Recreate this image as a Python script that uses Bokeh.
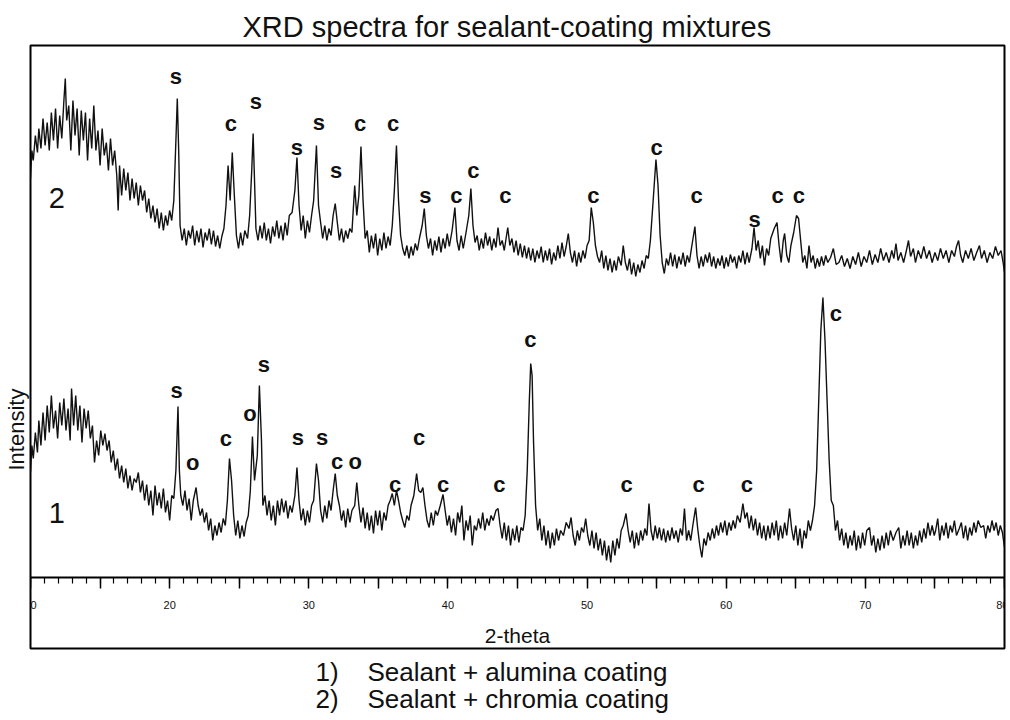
from bokeh.plotting import figure
from bokeh.models import Range1d, FixedTicker, ColumnDataSource, Title
from bokeh.core.properties import value
from bokeh.embed import file_html
from bokeh.resources import INLINE

# ---------------- data ----------------
title_text = "XRD spectra for sealant-coating mixtures"
x_label = "2-theta"
y_label = "Intensity"
legend_1 = "1)\u00a0\u00a0\u00a0 Sealant + alumina coating"
legend_2 = "2)\u00a0\u00a0\u00a0 Sealant + chromia coating"

major_ticks = [10, 15, 20, 25, 30, 35, 40, 45, 50, 55, 60, 65, 70, 75, 80]
minor_ticks = list(range(10, 81))

# spectrum 2 (Sealant + chromia coating), plotted with its vertical offset
theta_2 = [
    10.0, 10.1, 10.2, 10.35, 10.5, 10.6, 10.75, 10.9, 11.05, 11.2,
    11.35, 11.5, 11.65, 11.8, 11.95, 12.1, 12.25, 12.4, 12.5, 12.6,
    12.75, 12.9, 13.05, 13.2, 13.35, 13.5, 13.65, 13.8, 13.95, 14.1,
    14.25, 14.4, 14.55, 14.7, 14.85, 15.0, 15.15, 15.3, 15.45, 15.6,
    15.75, 15.9, 16.05, 16.2, 16.3, 16.4, 16.55, 16.7, 16.85, 17.0,
    17.15, 17.3, 17.45, 17.6, 17.75, 17.9, 18.05, 18.2, 18.35, 18.5,
    18.65, 18.8, 18.95, 19.1, 19.25, 19.4, 19.55, 19.7, 19.85, 20.0,
    20.15, 20.3, 20.45, 20.55, 20.65, 20.75, 20.9, 21.05, 21.2, 21.35,
    21.5, 21.65, 21.8, 21.95, 22.1, 22.25, 22.4, 22.55, 22.7, 22.85,
    23.0, 23.15, 23.3, 23.45, 23.6, 23.75, 23.9, 24.05, 24.2, 24.35,
    24.5, 24.65, 24.8, 24.95, 25.1, 25.25, 25.4, 25.6, 25.75, 25.9,
    26.0, 26.1, 26.2, 26.35, 26.5, 26.65, 26.8, 26.95, 27.1, 27.25,
    27.4, 27.55, 27.7, 27.85, 28.0, 28.15, 28.3, 28.45, 28.6, 28.8,
    29.0, 29.15, 29.3, 29.45, 29.6, 29.75, 29.9, 30.05, 30.2, 30.35,
    30.55, 30.7, 30.85, 31.0, 31.15, 31.3, 31.45, 31.6, 31.75, 31.9,
    32.05, 32.2, 32.35, 32.5, 32.65, 32.8, 32.95, 33.1, 33.3, 33.45,
    33.6, 33.75, 33.9, 34.05, 34.2, 34.35, 34.5, 34.65, 34.8, 34.95,
    35.1, 35.25, 35.4, 35.55, 35.7, 35.85, 36.0, 36.15, 36.3, 36.45,
    36.6, 36.75, 36.9, 37.05, 37.2, 37.35, 37.5, 37.65, 37.8, 37.95,
    38.15, 38.3, 38.45, 38.6, 38.75, 38.9, 39.05, 39.2, 39.35, 39.5,
    39.65, 39.8, 39.95, 40.1, 40.3, 40.5, 40.65, 40.8, 40.95, 41.1,
    41.3, 41.5, 41.65, 41.8, 41.95, 42.1, 42.25, 42.4, 42.55, 42.7,
    42.85, 43.0, 43.15, 43.3, 43.45, 43.6, 43.75, 43.9, 44.05, 44.2,
    44.3, 44.45, 44.6, 44.75, 44.9, 45.05, 45.2, 45.35, 45.5, 45.65,
    45.8, 45.95, 46.1, 46.25, 46.4, 46.55, 46.7, 46.85, 47.0, 47.15,
    47.3, 47.45, 47.6, 47.75, 47.9, 48.05, 48.2, 48.35, 48.5, 48.65,
    48.8, 48.95, 49.1, 49.25, 49.4, 49.55, 49.7, 49.85, 50.0, 50.15,
    50.3, 50.45, 50.6, 50.75, 50.9, 51.05, 51.2, 51.35, 51.5, 51.65,
    51.8, 51.95, 52.1, 52.25, 52.45, 52.6, 52.75, 52.9, 53.05, 53.2,
    53.35, 53.5, 53.65, 53.8, 53.95, 54.1, 54.25, 54.4, 54.55, 54.75,
    54.95, 55.1, 55.25, 55.4, 55.55, 55.7, 55.85, 56.0, 56.15, 56.3,
    56.45, 56.6, 56.75, 56.9, 57.05, 57.2, 57.35, 57.5, 57.75, 57.9,
    58.05, 58.2, 58.35, 58.5, 58.65, 58.8, 58.95, 59.1, 59.25, 59.4,
    59.55, 59.7, 59.85, 60.0, 60.15, 60.3, 60.45, 60.6, 60.75, 60.9,
    61.05, 61.2, 61.35, 61.5, 61.65, 61.85, 62.0, 62.15, 62.3, 62.45,
    62.6, 62.75, 62.9, 63.05, 63.2, 63.45, 63.65, 63.8, 63.95, 64.1,
    64.2, 64.35, 64.5, 64.65, 64.85, 65.05, 65.2, 65.35, 65.5, 65.65,
    65.8, 65.95, 66.1, 66.25, 66.4, 66.55, 66.7, 66.85, 67.0, 67.15,
    67.3, 67.5, 67.7, 67.9, 68.1, 68.3, 68.5, 68.7, 68.9, 69.1,
    69.3, 69.5, 69.7, 69.9, 70.1, 70.3, 70.5, 70.7, 70.9, 71.1,
    71.3, 71.5, 71.7, 71.9, 72.05, 72.2, 72.35, 72.55, 72.75, 72.95,
    73.1, 73.25, 73.45, 73.6, 73.8, 74.0, 74.2, 74.4, 74.6, 74.8,
    75.0, 75.2, 75.4, 75.6, 75.8, 76.0, 76.2, 76.4, 76.55, 76.7,
    76.85, 77.0, 77.2, 77.4, 77.6, 77.8, 78.0, 78.2, 78.35, 78.55,
    78.75, 78.95, 79.15, 79.35, 79.55, 79.75, 79.9, 80.0,
]
intensity_2 = [
    399, 427, 417, 442, 425, 449, 429, 459, 432, 455,
    427, 465, 437, 469, 429, 462, 439, 477, 499, 457,
    472, 427, 477, 442, 469, 422, 467, 437, 465, 417,
    459, 429, 472, 427, 447, 412, 449, 422, 435, 407,
    439, 412, 427, 402, 367, 412, 382, 409, 387, 405,
    377, 399, 379, 395, 372, 392, 377, 387, 365, 379,
    359, 372, 355, 369, 349, 365, 347, 362, 352, 367,
    357, 377, 437, 479, 427, 352, 337, 349, 332, 347,
    339, 352, 332, 347, 335, 349, 330, 345, 337, 349,
    333, 347, 331, 342, 329, 341, 349, 372, 412, 377,
    425, 382, 342, 329, 345, 332, 347, 339, 362, 407,
    444, 397, 349, 337, 352, 339, 355, 337, 349, 334,
    351, 341, 357, 339, 352, 337, 355, 342, 362, 365,
    387, 420, 372, 347, 362, 339, 357, 345, 362, 377,
    432, 372, 355, 339, 352, 337, 349, 342, 362, 374,
    355, 337, 349, 335, 347, 339, 349, 345, 392, 362,
    382, 431, 377, 339, 347, 325, 342, 329, 344, 322,
    339, 327, 345, 329, 341, 332, 352, 387, 432, 377,
    342, 329, 322, 332, 319, 331, 322, 334, 327, 339,
    352, 369, 342, 329, 339, 322, 337, 327, 341, 325,
    339, 329, 344, 331, 347, 370, 337, 327, 342, 329,
    345, 362, 389, 352, 335, 342, 327, 339, 329, 345,
    332, 341, 327, 339, 330, 350, 332, 337, 327, 341,
    350, 332, 339, 325, 337, 322, 334, 320, 332, 319,
    330, 317, 329, 315, 327, 319, 331, 315, 327, 317,
    329, 313, 325, 317, 332, 319, 335, 321, 331, 344,
    325, 315, 327, 311, 325, 315, 327, 319, 332, 337,
    370, 355, 332, 321, 315, 327, 309, 322, 307, 319,
    305, 317, 307, 321, 312, 332, 315, 307, 319, 303,
    315, 301, 313, 305, 317, 309, 322, 319, 337, 377,
    418, 392, 342, 315, 304, 319, 312, 325, 311, 323,
    309, 321, 313, 325, 311, 322, 315, 329, 351, 322,
    309, 321, 311, 323, 315, 325, 311, 321, 309, 319,
    312, 322, 309, 320, 311, 323, 315, 321, 309, 322,
    315, 327, 313, 325, 315, 329, 350, 327, 337, 319,
    332, 312, 329, 322, 339, 349, 355, 332, 315, 337,
    344, 322, 315, 332, 345, 362, 359, 337, 315, 322,
    309, 332, 315, 322, 309, 319, 311, 321, 312, 322,
    315, 320, 329, 313, 315, 322, 311, 319, 309, 321,
    313, 325, 311, 321, 315, 327, 313, 323, 315, 329,
    317, 325, 315, 327, 319, 334, 317, 325, 315, 327,
    337, 321, 329, 315, 327, 319, 331, 319, 327, 315,
    325, 317, 329, 319, 327, 315, 327, 321, 331, 337,
    322, 315, 327, 319, 329, 317, 325, 332, 319, 327,
    315, 325, 319, 331, 322, 327, 315, 305,
]

# spectrum 1 (Sealant + alumina coating)
theta_1 = [
    10.0, 10.1, 10.2, 10.35, 10.5, 10.6, 10.75, 10.9, 11.05, 11.2,
    11.35, 11.5, 11.65, 11.8, 11.95, 12.1, 12.25, 12.4, 12.55, 12.7,
    12.85, 12.95, 13.1, 13.25, 13.4, 13.55, 13.7, 13.85, 14.0, 14.15,
    14.3, 14.45, 14.6, 14.75, 14.9, 15.05, 15.2, 15.35, 15.5, 15.65,
    15.8, 15.95, 16.1, 16.25, 16.4, 16.55, 16.7, 16.85, 17.0, 17.15,
    17.3, 17.45, 17.6, 17.75, 17.9, 18.05, 18.2, 18.35, 18.5, 18.65,
    18.8, 18.95, 19.1, 19.25, 19.4, 19.55, 19.7, 19.85, 20.0, 20.15,
    20.3, 20.45, 20.6, 20.7, 20.8, 20.95, 21.1, 21.25, 21.4, 21.55,
    21.7, 21.9, 22.05, 22.2, 22.35, 22.5, 22.65, 22.8, 22.95, 23.1,
    23.25, 23.4, 23.55, 23.7, 23.85, 24.0, 24.15, 24.3, 24.45, 24.6,
    24.75, 24.9, 25.05, 25.2, 25.35, 25.5, 25.65, 25.8, 25.95, 26.1,
    26.3, 26.45, 26.6, 26.7, 26.85, 27.0, 27.15, 27.3, 27.45, 27.6,
    27.75, 27.9, 28.05, 28.2, 28.35, 28.5, 28.65, 28.8, 29.0, 29.15,
    29.3, 29.45, 29.6, 29.75, 29.9, 30.05, 30.2, 30.35, 30.55, 30.7,
    30.85, 31.0, 31.15, 31.3, 31.45, 31.6, 31.75, 31.9, 32.05, 32.2,
    32.35, 32.5, 32.65, 32.8, 32.95, 33.1, 33.3, 33.45, 33.6, 33.75,
    33.9, 34.05, 34.2, 34.35, 34.5, 34.65, 34.8, 34.95, 35.1, 35.25,
    35.4, 35.55, 35.7, 35.85, 36.0, 36.15, 36.3, 36.45, 36.6, 36.75,
    36.9, 37.05, 37.2, 37.35, 37.55, 37.75, 37.9, 38.05, 38.2, 38.35,
    38.5, 38.65, 38.8, 38.95, 39.1, 39.25, 39.45, 39.65, 39.8, 39.95,
    40.1, 40.25, 40.4, 40.55, 40.7, 40.85, 41.0, 41.15, 41.3, 41.45,
    41.6, 41.75, 41.9, 42.05, 42.2, 42.35, 42.5, 42.65, 42.8, 42.95,
    43.1, 43.25, 43.45, 43.6, 43.75, 43.9, 44.05, 44.2, 44.35, 44.5,
    44.65, 44.8, 44.95, 45.1, 45.25, 45.4, 45.55, 45.7, 45.85, 45.95,
    46.05, 46.15, 46.3, 46.45, 46.6, 46.75, 46.9, 47.05, 47.2, 47.35,
    47.5, 47.65, 47.8, 47.95, 48.1, 48.3, 48.5, 48.7, 48.85, 49.0,
    49.15, 49.3, 49.45, 49.6, 49.75, 49.9, 50.05, 50.2, 50.35, 50.5,
    50.65, 50.8, 50.95, 51.1, 51.25, 51.4, 51.55, 51.7, 51.85, 52.0,
    52.15, 52.3, 52.45, 52.6, 52.8, 52.95, 53.1, 53.25, 53.4, 53.55,
    53.7, 53.85, 54.0, 54.15, 54.3, 54.45, 54.6, 54.75, 54.9, 55.05,
    55.2, 55.35, 55.5, 55.65, 55.8, 55.95, 56.1, 56.25, 56.4, 56.55,
    56.7, 56.85, 57.0, 57.15, 57.3, 57.45, 57.6, 57.8, 57.95, 58.1,
    58.25, 58.4, 58.55, 58.7, 58.85, 59.0, 59.15, 59.3, 59.45, 59.6,
    59.75, 59.9, 60.05, 60.2, 60.35, 60.5, 60.65, 60.8, 61.0, 61.2,
    61.35, 61.5, 61.65, 61.8, 61.95, 62.1, 62.25, 62.4, 62.55, 62.7,
    62.85, 63.0, 63.15, 63.3, 63.45, 63.6, 63.75, 63.9, 64.05, 64.2,
    64.35, 64.55, 64.7, 64.85, 65.0, 65.15, 65.3, 65.45, 65.6, 65.75,
    65.9, 66.05, 66.2, 66.35, 66.5, 66.65, 66.8, 66.95, 67.1, 67.25,
    67.4, 67.55, 67.7, 67.85, 68.0, 68.15, 68.3, 68.45, 68.6, 68.75,
    68.9, 69.05, 69.2, 69.35, 69.5, 69.65, 69.8, 69.95, 70.1, 70.3,
    70.45, 70.6, 70.75, 70.9, 71.05, 71.2, 71.35, 71.5, 71.65, 71.8,
    72.0, 72.2, 72.4, 72.55, 72.7, 72.85, 73.0, 73.15, 73.3, 73.45,
    73.6, 73.75, 73.9, 74.05, 74.2, 74.35, 74.5, 74.65, 74.8, 74.95,
    75.05, 75.2, 75.35, 75.5, 75.65, 75.8, 75.95, 76.1, 76.25, 76.4,
    76.55, 76.75, 76.9, 77.05, 77.2, 77.35, 77.5, 77.65, 77.8, 77.95,
    78.1, 78.3, 78.5, 78.65, 78.8, 78.95, 79.1, 79.25, 79.4, 79.55,
    79.7, 79.85, 80.0,
]
intensity_1 = [
    105, 132, 119, 145, 125, 157, 132, 165, 137, 172,
    145, 182, 149, 167, 139, 175, 152, 179, 147, 169,
    137, 189, 152, 182, 147, 172, 135, 169, 149, 167,
    139, 152, 115, 137, 122, 147, 132, 144, 127, 137,
    115, 127, 107, 119, 99, 112, 95, 109, 89, 102,
    87, 99, 95, 105, 85, 97, 77, 93, 72, 87,
    62, 92, 72, 85, 69, 89, 65, 77, 57, 82,
    79, 107, 171, 107, 82, 72, 87, 67, 79, 57,
    77, 90, 72, 62, 69, 55, 65, 47, 59, 37,
    52, 42, 55, 45, 59, 52, 77, 119, 97, 62,
    42, 57, 39, 52, 41, 55, 62, 87, 141, 97,
    122, 192, 137, 72, 82, 62, 77, 57, 72, 52,
    77, 62, 79, 65, 77, 59, 72, 65, 82, 110,
    77, 57, 69, 52, 67, 55, 72, 77, 114, 97,
    67, 55, 72, 59, 77, 67, 87, 104, 82, 72,
    57, 67, 50, 69, 55, 67, 72, 95, 72, 55,
    70, 49, 65, 47, 62, 44, 67, 52, 67, 47,
    65, 57, 72, 77, 84, 72, 87, 77, 65, 57,
    50, 62, 57, 72, 82, 104, 87, 85, 90, 72,
    57, 50, 65, 52, 67, 62, 72, 83, 67, 52,
    62, 45, 59, 42, 65, 55, 72, 37, 57, 47,
    62, 32, 52, 47, 59, 49, 65, 47, 59, 52,
    62, 57, 67, 69, 52, 39, 55, 37, 52, 32,
    49, 37, 52, 35, 50, 47, 62, 107, 177, 214,
    202, 137, 72, 47, 59, 37, 52, 32, 47, 29,
    45, 32, 49, 37, 47, 42, 55, 49, 60, 42,
    32, 47, 37, 50, 45, 59, 42, 32, 47, 29,
    45, 27, 39, 22, 37, 17, 32, 15, 37, 22,
    39, 29, 47, 52, 64, 47, 35, 47, 29, 45,
    32, 47, 37, 49, 42, 74, 47, 37, 52, 39,
    50, 37, 49, 35, 47, 37, 50, 39, 47, 35,
    49, 42, 69, 37, 47, 37, 52, 70, 49, 32,
    20, 39, 32, 45, 37, 49, 39, 52, 42, 55,
    45, 57, 42, 55, 47, 57, 49, 62, 55, 74,
    59, 65, 49, 62, 47, 59, 42, 55, 39, 52,
    37, 52, 39, 55, 42, 57, 37, 52, 39, 55,
    42, 69, 49, 37, 52, 32, 49, 29, 47, 39,
    57, 47, 57, 72, 107, 177, 247, 280, 237, 177,
    117, 77, 72, 47, 57, 37, 49, 32, 45, 29,
    42, 32, 47, 27, 42, 29, 45, 32, 47, 50,
    32, 42, 25, 39, 27, 42, 29, 45, 32, 47,
    37, 45, 50, 29, 42, 32, 47, 32, 45, 29,
    42, 32, 47, 35, 49, 39, 55, 42, 52, 42,
    47, 59, 37, 52, 42, 55, 39, 52, 45, 57,
    42, 49, 55, 39, 52, 37, 50, 42, 55, 45,
    57, 50, 52, 39, 52, 45, 57, 47, 55, 42,
    52, 45, 30,
]

# phase marks (s = sealant, c = coating, o = other)
marks_2_theta = [20.44, 24.4, 26.2, 29.15, 30.73, 31.96, 33.69, 36.06, 38.37,
                 40.6, 41.82, 44.13, 50.46, 55.0, 57.88, 62.05, 63.7, 65.22]
marks_2_int = [501, 454, 476, 430, 455, 407, 454, 454, 382,
               382, 407, 382, 382, 430, 382, 358, 382, 382]
marks_2_text = ["s", "c", "s", "s", "s", "s", "c", "c", "s",
                "c", "c", "c", "c", "c", "c", "s", "c", "c"]

marks_1_theta = [20.51, 21.66, 24.04, 25.77, 26.77, 29.22, 30.95, 32.03, 33.33,
                 36.2, 37.93, 39.66, 43.69, 45.92, 52.84, 58.02, 61.48, 67.88]
marks_1_int = [187, 115, 139, 164, 213, 140, 140, 116, 116,
               93, 140, 93, 93, 238, 93, 93, 93, 264]
marks_1_text = ["s", "o", "c", "o", "s", "s", "s", "c", "o",
                "c", "c", "c", "c", "c", "c", "c", "c", "c"]

series_theta = [11.9, 11.9]
series_int = [380, 65]
series_text = ["2", "1"]

# ---------------- figure ----------------
FONT = "Liberation Sans"
INK = "#111111"

p = figure(width=1008, height=720,
           x_range=Range1d(10, 80), y_range=Range1d(-71, 532),
           output_backend="svg", toolbar_location=None,
           y_axis_location=None, title=title_text,
           min_border_left=30, min_border_right=4,
           min_border_top=45, min_border_bottom=72)
p.background_fill_color = "white"
p.border_fill_color = "white"
p.outline_line_color = "black"
p.outline_line_width = 2
p.xgrid.visible = False
p.ygrid.visible = False

p.title.text_font = FONT
p.title.text_font_size = "29px"
p.title.text_font_style = "normal"
p.title.text_color = INK
p.title.align = "left"
p.title.offset = 212
p.title.standoff = 5

xa = p.xaxis[0]
xa.fixed_location = 0
xa.ticker = FixedTicker(ticks=major_ticks, minor_ticks=minor_ticks)
xa.major_label_overrides = {t: "" for t in major_ticks if t % 10 != 0}
xa.axis_line_color = "black"
xa.axis_line_width = 2
xa.major_tick_in = 0
xa.major_tick_out = 11
xa.minor_tick_in = 0
xa.minor_tick_out = 6
xa.major_tick_line_width = 1.5
xa.minor_tick_line_width = 1.2
xa.major_tick_line_color = "black"
xa.minor_tick_line_color = "black"
xa.major_label_text_font = FONT
xa.major_label_text_font_size = "11px"
xa.major_label_text_color = INK
xa.major_label_standoff = 12
xa.axis_label = x_label
xa.axis_label_text_font = FONT
xa.axis_label_text_font_size = "21px"
xa.axis_label_text_font_style = "normal"
xa.axis_label_text_color = INK
xa.axis_label_standoff = 12

p.line(theta_2, intensity_2, line_color=INK, line_width=1.4)
p.line(theta_1, intensity_1, line_color=INK, line_width=1.4)

marks = ColumnDataSource(dict(
    x=marks_2_theta + marks_1_theta,
    y=marks_2_int + marks_1_int,
    t=marks_2_text + marks_1_text,
))
p.text(x="x", y="y", text="t", source=marks,
       text_font=value(FONT), text_font_size="22px", text_font_style="bold",
       text_color=INK, text_align="center", text_baseline="middle")

series = ColumnDataSource(dict(x=series_theta, y=series_int, t=series_text))
p.text(x="x", y="y", text="t", source=series,
       text_font=value(FONT), text_font_size="29px",
       text_color=INK, text_align="center", text_baseline="middle")

p.add_layout(Title(text=y_label, align="left", offset=178, standoff=3,
                   text_font=FONT, text_font_size="22px", text_font_style="normal",
                   text_color=INK), "left")

p.add_layout(Title(text=legend_1 + "\n" + legend_2, align="left", offset=285,
                   standoff=12, text_font=FONT, text_font_size="26px",
                   text_font_style="normal", text_line_height=0.92,
                   text_color=INK), "below")

open("out.html", "w").write(file_html(p, INLINE))
